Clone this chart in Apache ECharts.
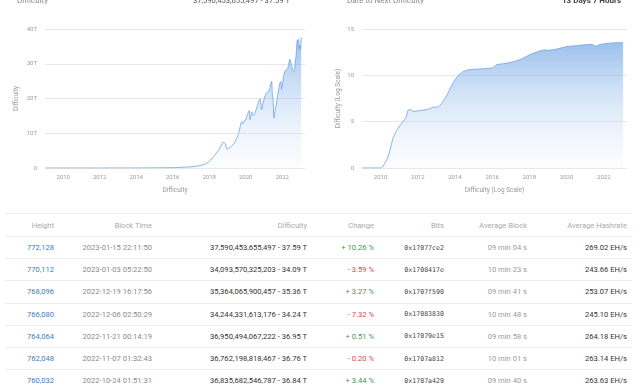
<!DOCTYPE html>
<html>
<head>
<meta charset="utf-8">
<script src="https://cdn.jsdelivr.net/npm/echarts@6/dist/echarts.min.js"></script>
<style>
html,body{margin:0;padding:0;background:#fff;width:640px;height:387px;overflow:hidden;font-family:Roboto,"Noto Sans",sans-serif;}
#chart{position:absolute;left:0;top:0;width:640px;height:210px;}
#tbl{position:absolute;left:5px;top:213px;width:627px;border-collapse:collapse;table-layout:fixed;font-size:7.6px;}
#tbl td,#tbl th{padding:0;text-align:right;white-space:nowrap;border-bottom:1px solid #ececec;font-weight:normal;}
#tbl th{height:22px;color:#aaa;border-top:1px solid #ececec;}
#tbl td{height:21.2px;}
#tbl td:last-child,#tbl th:last-child{padding-right:5px;}
.h{color:#3b7dbf;}
.t{color:#8a8a8a;}
.d{color:#333;}
.up{color:#3f9a4a;}
.dn{color:#c9504a;}
.b{color:#444;font-family:"DejaVu Sans Mono","Liberation Mono",monospace;font-size:6.6px;}
.ab{color:#9a9a9a;}
.hr{color:#333;}
</style>
</head>
<body>
<div id="chart"></div>
<table id="tbl"><colgroup>
<col style="width:49px"><col style="width:98px"><col style="width:155px"><col style="width:67px"><col style="width:70px"><col style="width:83px"><col style="width:105px">
</colgroup><thead></thead><tbody></tbody></table>
<script>
// ---- Left chart: Difficulty (T) by year ----
var diffYears = [2009.0,2010.0,2011.0,2012.0,2013.0,2014.0,2015.0,2016.0,2016.5,2017.0,2017.5,2017.8,2018.0,2018.25,2018.5,2018.65,2018.76,2018.88,2018.97,2019.05,2019.2,2019.35,2019.45,2019.55,2019.62,2019.7,2019.78,2019.85,2019.93,2020.0,2020.1,2020.2,2020.24,2020.33,2020.42,2020.5,2020.6,2020.72,2020.8,2020.87,2020.95,2021.05,2021.15,2021.25,2021.33,2021.42,2021.46,2021.5,2021.55,2021.62,2021.68,2021.72,2021.78,2021.85,2021.92,2021.97,2022.02,2022.08,2022.15,2022.3,2022.35,2022.42,2022.47,2022.52,2022.57,2022.63,2022.68,2022.72,2022.76,2022.8,2022.83,2022.86,2022.9,2022.93,2022.97,2023.0,2023.04];
var diffValues = [0,0,0,0,0.0001,0.004,0.04,0.1,0.2,0.33,0.7,1.2,1.9,3.3,5.0,6.4,7.4,7.0,5.4,5.6,6.1,7.0,7.9,9.0,10.2,11.9,13.3,12.8,13.7,13.8,15.5,16.5,13.9,16.1,15.1,15.8,17.3,19.3,19.9,16.8,18.6,20.6,21.7,21.9,23.1,25.0,21.0,19.9,14.4,16.8,18.4,19.9,21.7,23.9,24.9,22.6,24.3,26.6,27.9,28.6,29.8,31.3,30.3,29.6,28.2,27.7,28.4,30.98,32.0,35.6,36.8,36.76,36.95,34.24,35.36,34.09,37.59];
// ---- Right chart: Difficulty (log scale) by year ----
var logYears = [2009.0,2010.0,2010.1,2010.25,2010.4,2010.55,2010.67,2010.8,2010.94,2011.2,2011.35,2011.48,2011.6,2011.8,2012.1,2012.5,2012.8,2013.1,2013.3,2013.46,2013.65,2013.82,2014.0,2014.18,2014.4,2014.63,2014.99,2015.5,2016.0,2016.25,2016.6,2017.0,2017.5,2018.0,2018.5,2018.9,2019.0,2019.5,2020.0,2020.5,2021.0,2021.35,2021.55,2021.7,2022.0,2022.5,2023.0,2023.04];
var logValues = [0,0,0.1,0.6,1.2,2.3,3.2,3.8,4.3,5.0,5.4,6.25,6.3,6.1,6.2,6.3,6.55,6.6,7.0,7.5,8.2,8.9,9.5,10.0,10.35,10.55,10.65,10.7,10.8,11.15,11.25,11.4,11.7,12.2,12.6,12.75,12.7,12.85,13.1,13.2,13.3,13.35,13.15,13.25,13.4,13.5,13.52,13.575];
var leftTicks = [0,10,20,30,40];
var rightTicks = [0,5,10,15];
var yearLabels = [2010,2012,2014,2016,2018,2020,2022];
// ---- Header texts ----
var headerLeftTitle = 'Difficulty';
var headerLeftValue = '37,590,453,655,497 - 37.59 T';
var headerRightTitle = 'Date to Next Difficulty';
var headerRightValue = '13 Days 7 Hours';
// ---- Table ----
var colHeaders = ['Height','Block Time','Difficulty','Change','Bits','Average Block','Average Hashrate'];
var heights = ['772,128','770,112','768,096','766,080','764,064','762,048','760,032'];
var blockTimes = ['2023-01-15 22:11:50','2023-01-03 05:22:50','2022-12-19 16:17:56','2022-12-06 02:50:29','2022-11-21 00:14:19','2022-11-07 01:32:43','2022-10-24 01:51:31'];
var difficulties = ['37,590,453,655,497 - 37.59 T','34,093,570,325,203 - 34.09 T','35,364,065,900,457 - 35.36 T','34,244,331,613,176 - 34.24 T','36,950,494,067,222 - 36.95 T','36,762,198,818,467 - 36.76 T','36,835,682,546,787 - 36.84 T'];
var changes = ['+ 10.26 %','- 3.59 %','+ 3.27 %','- 7.32 %','+ 0.51 %','- 0.20 %','+ 3.44 %'];
var bits = ['0x17077ce2','0x1708417e','0x1707f590','0x17083830','0x17079e15','0x1707a812','0x1707a429'];
var avgBlocks = ['09 min 04 s','10 min 23 s','09 min 41 s','10 min 48 s','09 min 58 s','10 min 01 s','09 min 40 s'];
var hashrates = ['269.02 EH/s','243.66 EH/s','253.07 EH/s','245.10 EH/s','264.18 EH/s','263.14 EH/s','263.63 EH/s'];

// build table
(function(){
  var thead = document.querySelector('#tbl thead');
  var tr = document.createElement('tr');
  colHeaders.forEach(function(h){var th=document.createElement('th');th.textContent=h;tr.appendChild(th);});
  thead.appendChild(tr);
  var tbody = document.querySelector('#tbl tbody');
  for (var i=0;i<heights.length;i++){
    var r=document.createElement('tr');
    var cells=[[heights[i],'h'],[blockTimes[i],'t'],[difficulties[i],'d'],[changes[i],changes[i].charAt(0)==='+'?'up':'dn'],[bits[i],'b'],[avgBlocks[i],'ab'],[hashrates[i],'hr']];
    cells.forEach(function(c){var td=document.createElement('td');td.textContent=c[0];td.className=c[1];r.appendChild(td);});
    tbody.appendChild(r);
  }
})();

function zip(a,b){return a.map(function(x,i){return [x,b[i]];});}
var chart = echarts.init(document.getElementById('chart'), null, {renderer:'canvas'});
var lab = {color:'#9a9a9a', fontSize:6, fontFamily:'Roboto'};
function xAxis(idx){
  return {type:'value', gridIndex:idx, min:2009, max:2023.25, interval:1,
    name: idx===0?'Difficulty':'Difficulty (Log Scale)', nameLocation:'middle', nameGap:19,
    nameTextStyle:{color:'#999', fontSize:6.5, fontFamily:'Roboto'},
    axisLine:{show:false}, axisTick:{show:false}, splitLine:{show:false},
    axisLabel:Object.assign({margin:6, showMinLabel:false, showMaxLabel:false, formatter:function(v){return yearLabels.indexOf(v)>=0?String(v):'';}}, lab)};
}
function areaStyle(){
  return {color:new echarts.graphic.LinearGradient(0,0,0,1,[{offset:0,color:'rgba(104,160,228,0.95)'},{offset:1,color:'rgba(220,234,250,0.15)'}])};
}
var lineColor = 'rgba(120,170,230,0.9)';
chart.setOption({
  animation:false,
  grid:[{left:45, right:335, top:29, bottom:42},{left:362, right:13, top:29, bottom:42}],
  xAxis:[xAxis(0), xAxis(1)],
  yAxis:[
    {type:'value', gridIndex:0, min:0, max:40, interval:10, name:'Difficulty', nameLocation:'middle', nameGap:25,
     nameTextStyle:{color:'#999', fontSize:6.5, fontFamily:'Roboto'},
     axisLine:{show:false}, axisTick:{show:false},
     splitLine:{lineStyle:{color:'#e8e8e8', width:1}},
     axisLabel:Object.assign({margin:8, formatter:function(v){return leftTicks.indexOf(v)>=0?(v===0?'0':v+'T'):'';}}, lab)},
    {type:'value', gridIndex:1, min:0, max:15, interval:5, name:'Difficulty (Log Scale)', nameLocation:'middle', nameGap:20,
     nameTextStyle:{color:'#999', fontSize:6.5, fontFamily:'Roboto'},
     axisLine:{show:false}, axisTick:{show:false},
     splitLine:{lineStyle:{color:'#e8e8e8', width:1}},
     axisLabel:Object.assign({margin:8, formatter:function(v){return rightTicks.indexOf(v)>=0?String(v):'';}}, lab)}
  ],
  series:[
    {type:'line', xAxisIndex:0, yAxisIndex:0, data:zip(diffYears,diffValues), showSymbol:false, smooth:0.2,
     lineStyle:{color:lineColor, width:1}, areaStyle:areaStyle()},
    {type:'line', xAxisIndex:1, yAxisIndex:1, data:zip(logYears,logValues), showSymbol:false, smooth:0.2,
     lineStyle:{color:lineColor, width:1}, areaStyle:areaStyle()}
  ],
  graphic:[
    {type:'text', x:17, y:1, style:{text:headerLeftTitle, fill:'#8a8a8a', fontSize:8, fontFamily:'Roboto', verticalAlign:'middle', align:'left'}},
    {type:'text', x:290, y:1, style:{text:headerLeftValue, fill:'#555', fontSize:7.6, fontFamily:'Roboto', verticalAlign:'middle', align:'right'}},
    {type:'text', x:347, y:1, style:{text:headerRightTitle, fill:'#8a8a8a', fontSize:8, fontFamily:'Roboto', verticalAlign:'middle', align:'left'}},
    {type:'text', x:621, y:1, style:{text:headerRightValue, fill:'#444', fontSize:8, fontWeight:'bold', fontFamily:'Roboto', verticalAlign:'middle', align:'right'}}
  ]
});
</script>
</body>
</html>
